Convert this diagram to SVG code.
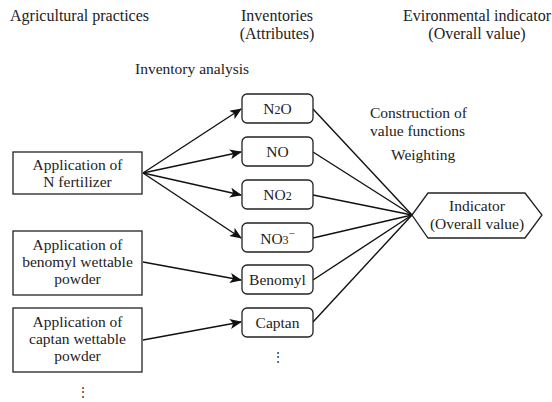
<svg xmlns="http://www.w3.org/2000/svg" width="552" height="402" viewBox="0 0 552 402">
<defs>
<style>
text{font-family:"Liberation Serif","Times New Roman",serif;font-size:15.5px;fill:#222;}
.h{font-size:16px;}
.c{text-anchor:middle;}
.box{fill:#fff;stroke:#222;stroke-width:1.3;}
.ln{stroke:#111;stroke-width:1.4;fill:none;}
.ar{stroke:#111;stroke-width:1.4;fill:none;marker-end:url(#ah);}
</style>
<marker id="ah" viewBox="0 0 12 10" refX="11" refY="5" markerWidth="12" markerHeight="10" markerUnits="userSpaceOnUse" orient="auto">
<path d="M0,0 L12,5 L0,10 L3,5 Z" fill="#111"/>
</marker>
</defs>
<rect width="552" height="402" fill="#fff"/>
<g id="headers">
<text class="h" x="10" y="21">Agricultural practices</text>
<text class="h c" x="277" y="21">Inventories</text>
<text class="h c" x="277" y="39">(Attributes)</text>
<text class="h c" x="477" y="21">Evironmental indicator</text>
<text class="h c" x="477" y="39">(Overall value)</text>
<text x="135" y="74">Inventory analysis</text>
<text x="370" y="118">Construction of</text>
<text x="370" y="136">value functions</text>
<text x="391" y="160">Weighting</text>
</g>
<g id="connectors">
<line class="ar" x1="143" y1="173" x2="241" y2="109"/>
<line class="ar" x1="143" y1="173" x2="241" y2="152"/>
<line class="ar" x1="143" y1="173" x2="241" y2="195"/>
<line class="ar" x1="143" y1="173" x2="241" y2="238"/>
<line class="ar" x1="143" y1="262" x2="241" y2="280"/>
<line class="ar" x1="143" y1="340" x2="241" y2="322"/>
<line class="ln" x1="313" y1="109" x2="412" y2="215"/>
<line class="ln" x1="313" y1="152" x2="412" y2="215"/>
<line class="ln" x1="313" y1="195" x2="412" y2="215"/>
<line class="ln" x1="313" y1="238" x2="412" y2="215"/>
<line class="ln" x1="313" y1="280" x2="412" y2="215"/>
<line class="ln" x1="313" y1="322" x2="412" y2="215"/>
</g>
<g id="practice-n">
<rect class="box" x="13" y="152" width="129" height="42"/>
<text class="c" x="77.5" y="170">Application of</text>
<text class="c" x="77.5" y="187">N fertilizer</text>
</g>
<g id="practice-benomyl">
<rect class="box" x="13" y="231" width="129" height="64"/>
<text class="c" x="77.5" y="250">Application of</text>
<text class="c" x="77.5" y="267">benomyl wettable</text>
<text class="c" x="77.5" y="284">powder</text>
</g>
<g id="practice-captan">
<rect class="box" x="13" y="308" width="129" height="64"/>
<text class="c" x="77.5" y="327">Application of</text>
<text class="c" x="77.5" y="344">captan wettable</text>
<text class="c" x="77.5" y="361">powder</text>
</g>
<g id="practice-more">
<text class="c" x="83" y="396" style="font-size:12px">⋮</text>
</g>
<g id="inv-n2o">
<rect class="box" x="242" y="94" width="71" height="29" rx="5"/>
<text class="c" x="277.5" y="114">N<tspan font-size="12">2</tspan>O</text>
</g>
<g id="inv-no">
<rect class="box" x="242" y="137" width="71" height="29" rx="5"/>
<text class="c" x="277.5" y="157">NO</text>
</g>
<g id="inv-no2">
<rect class="box" x="242" y="180" width="71" height="29" rx="5"/>
<text class="c" x="277.5" y="200">NO<tspan font-size="12">2</tspan></text>
</g>
<g id="inv-no3">
<rect class="box" x="242" y="223" width="71" height="29" rx="5"/>
<text class="c" x="277.5" y="244">NO<tspan font-size="12">3</tspan><tspan font-size="11" dy="-7">−</tspan></text>
</g>
<g id="inv-benomyl">
<rect class="box" x="242" y="265" width="71" height="29" rx="5"/>
<text class="c" x="277.5" y="285">Benomyl</text>
</g>
<g id="inv-captan">
<rect class="box" x="242" y="308" width="71" height="29" rx="5"/>
<text class="c" x="277.5" y="328">Captan</text>
</g>
<g id="inv-more">
<text class="c" x="278" y="361" style="font-size:12px">⋮</text>
</g>
<g id="indicator">
<polygon class="box" points="412,215 428,193 525,193 542,215 525,238 428,238"/>
<text class="c" x="477" y="211">Indicator</text>
<text class="c" x="477" y="229">(Overall value)</text>
</g>
</svg>
